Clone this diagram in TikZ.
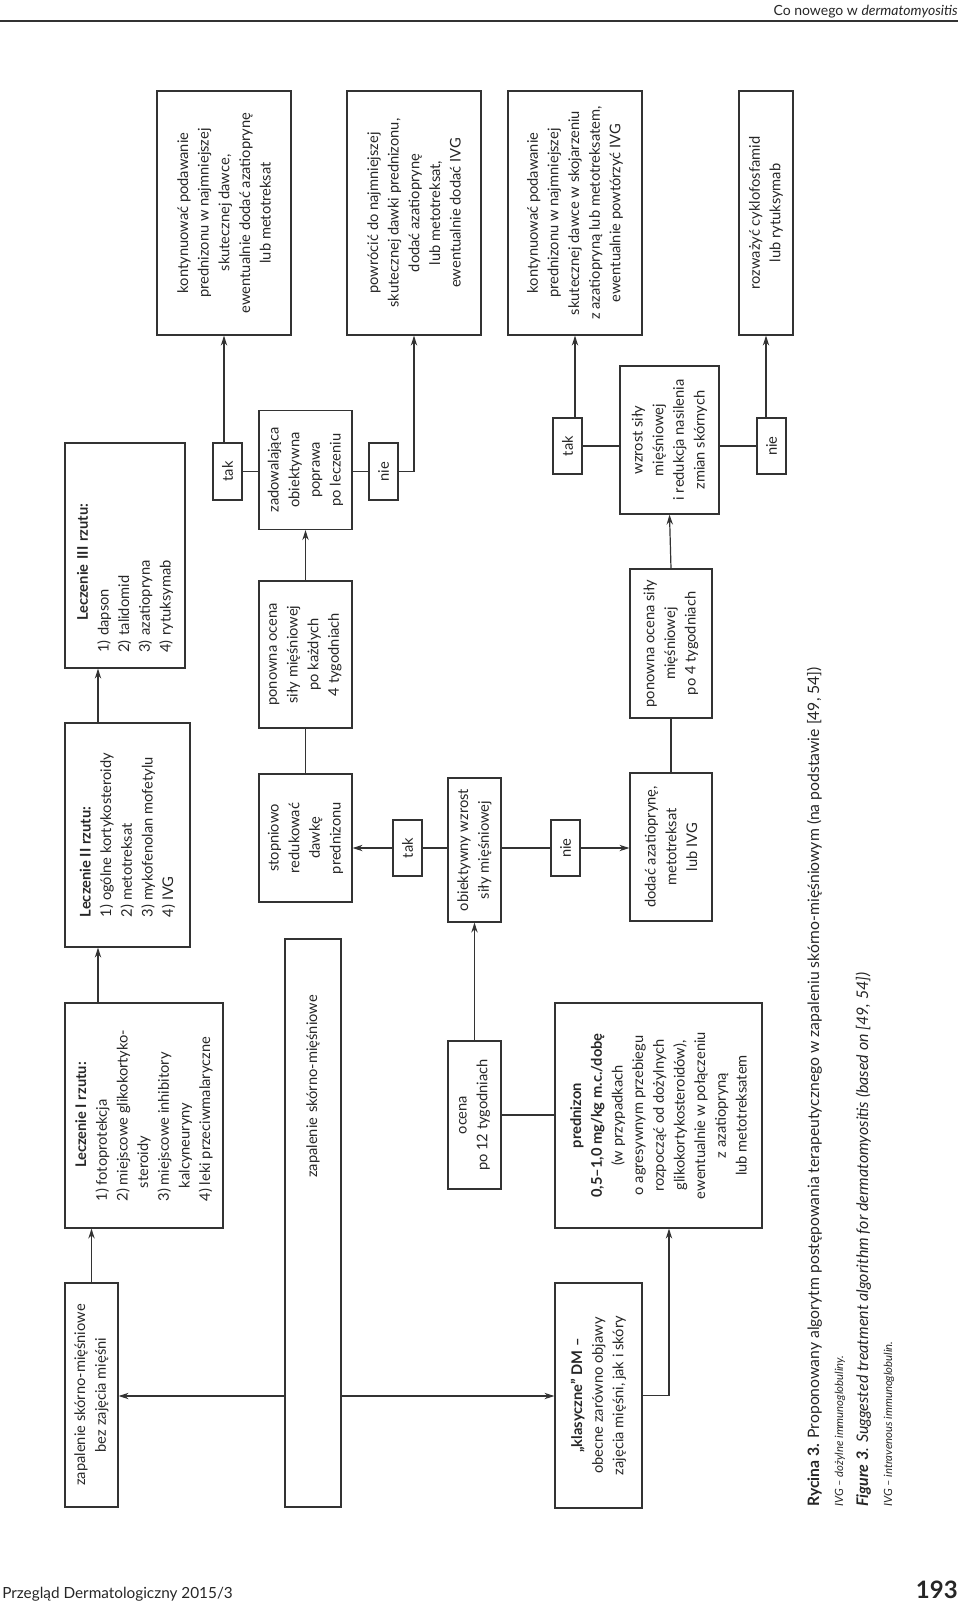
\documentclass[tikz,border=0pt]{standalone}
\usepackage{fontspec}
\setmainfont{Lato}
\usetikzlibrary{arrows.meta}

\tikzset{
  box/.style={draw=black!80, line width=0.9pt, rotate=90, inner sep=0pt,
    align=center, text=black!85, font=\fontsize{11}{15.5}\selectfont},
  sz/.style 2 args={minimum width=#1*0.75pt, minimum height=#2*0.75pt},
  arr/.style={draw=black!80, line width=0.9pt, -{Stealth[length=7.5pt,width=4.8pt]}},
  lnk/.style={draw=black!80, line width=0.9pt},
  captext/.style={rotate=90, anchor=base west, inner sep=0pt, text=black!85},
}

\begin{document}
\begin{tikzpicture}[x=0.75pt,y=0.75pt,yscale=-1,xscale=1]
    \useasboundingbox (0,0) rectangle (960,1604);

    % Page header
    \node[anchor=base east, inner sep=0pt, font=\fontsize{10.5}{12}\selectfont, text=black!85] (head) at (958,15) {Co nowego w \textit{dermatomyositis}};
    \draw[line width=0.8pt, black!80] (0,21) -- (958,21);

    % Shape: first column
    \node[box, sz={224}{53}] (skin) at (91.5,1395) {zapalenie skórno-mięśniowe\\bez zajęcia mięśni};
    \node[box, sz={225}{158}, align=left] (first) at (144,1115.5) {\hspace*{25pt}\textbf{Leczenie I rzutu:}\\1) fotoprotekcja\\2) miejscowe glikokortyko-\\\hspace*{0.9em}steroidy\\3) miejscowe inhibitory\\\hspace*{0.9em}kalcyneuryny\\4) leki przeciwmalaryczne};
    \node[box, sz={224}{125}, align=left] (second) at (127.5,835) {\textbf{Leczenie II rzutu:}\\1) ogólne kortykosteroidy\\2) metotreksat\\3) mykofenolan mofetylu\\4) IVG};
    \node[box, sz={225}{120}, align=left, text width=146pt] (third) at (125,555.5) {\hspace*{24pt}\textbf{Leczenie III rzutu:}\\1) dapson\\2) talidomid\\3) azatiopryna\\4) rytuksymab};

    % Shape: root and classic DM
    \node[box, sz={568}{56}, align=right, text width=342pt] (root) at (313,1223) {zapalenie skórno-mięśniowe};
    \node[box, sz={225}{87}] (classic) at (598.5,1395.5) {\textbf{„klasyczne” DM –}\\obecne zarówno objawy\\zajęcia mięśni, jak i skóry};
    \node[box, sz={225}{207}] (pred) at (658.5,1115.5) {\textbf{prednizon}\\\textbf{0,5–1,0 mg/kg m.c./dobę}\\(w przypadkach\\o agresywnym przebiegu\\rozpocząć od dożylnych\\glikokortykosteroidów),\\ewentualnie w połączeniu\\z azatiopryną\\lub metotreksatem};

    % Shape: assessment
    \node[box, sz={148}{53}] (twelve) at (474.5,1115) {ocena\\po 12 tygodniach};
    \node[box, sz={144}{53}] (gain) at (474.5,850) {obiektywny wzrost\\siły mięśniowej};
    \node[box, sz={56}{29}] (yes3) at (407.5,848) {tak};
    \node[box, sz={56}{29}] (no3) at (565.5,848) {nie};
    \node[box, sz={128}{93}] (taper) at (305.5,838) {stopniowo\\redukować\\dawkę\\prednizonu};
    \node[box, sz={148}{82}] (add) at (671,847) {dodać azatioprynę,\\metotreksat\\lub IVG};
    \node[box, sz={147}{93}] (recheck) at (305.5,654.5) {ponowna ocena\\siły mięśniowej\\po każdych\\4 tygodniach};
    \node[box, sz={149}{82}] (recheckb) at (671,643.5) {ponowna ocena siły\\mięśniowej\\po 4 tygodniach};
    \node[box, sz={119}{93}] (good) at (305.5,470) {zadowalająca\\obiektywna\\poprawa\\po leczeniu};
    \node[box, sz={148}{99}] (better) at (669.5,440) {wzrost siły\\mięśniowej\\i redukcja nasilenia\\zmian skórnych};
    \node[box, sz={57}{29}] (yes1) at (227.5,471.5) {tak};
    \node[box, sz={57}{29}] (no1) at (383.5,471.5) {nie};
    \node[box, sz={56}{29}] (yes2) at (567.5,446) {tak};
    \node[box, sz={56}{29}] (no2) at (771.5,446) {nie};

    % Shape: outcomes
    \node[box, sz={244}{134}] (keep) at (224,213) {kontynuować podawanie\\prednizonu w najmniejszej\\skutecznej dawce,\\ewentualnie dodać azatioprynę\\lub metotreksat};
    \node[box, sz={244}{134}] (back) at (414,213) {powrócić do najmniejszej\\skutecznej dawki prednizonu,\\dodać azatioprynę\\lub metotreksat,\\ewentualnie dodać IVG};
    \node[box, sz={244}{134}] (keepb) at (575,213) {kontynuować podawanie\\prednizonu w najmniejszej\\skutecznej dawce w skojarzeniu\\z azatiopryną lub metotreksatem,\\ewentualnie powtórzyć IVG};
    \node[box, sz={244}{54}] (cyclo) at (766,213) {rozważyć cyklofosfamid\\lub rytuksymab};

    % Straight Lines
    \coordinate (ax) at (98,0);
    \coordinate (fork) at (0,1396);
    \coordinate (bend) at (669,0);
    \draw[arr] (skin.east) -- (skin.east |- first.west);
    \draw[arr] (first.east -| ax) -- (second.west -| ax);
    \draw[arr] (second.east -| ax) -- (third.west -| ax);
    \draw[arr] (root.north |- fork) -- (skin.south |- fork);
    \draw[arr] (root.south |- fork) -- (classic.north |- fork);
    \draw[arr] (classic.south) -| (bend |- pred.west);
    \draw[lnk] (twelve.south) -- (twelve.south -| pred.north);
    \draw[arr] (twelve.east) -- (gain.west);
    \draw[lnk] (gain.north |- yes3) -- (yes3.south);
    \draw[arr] (yes3.north) -- (yes3.north -| taper.south);
    \draw[lnk] (gain.south |- no3) -- (no3.north);
    \draw[arr] (no3.south) -- (no3.south -| add.north);
    \draw[lnk] (taper.east) -- (recheck.west);
    \draw[arr] (recheck.east) -- (good.west);
    \draw[lnk] (good.north |- yes1) -- (yes1.south);
    \draw[arr] (keep.west |- yes1.east) -- (keep.west);
    \draw[lnk] (good.south |- no1) -- (no1.north);
    \draw[arr] (no1.south) -| (back.west);
    \draw[lnk] (add.east) -- (recheckb.west);
    \draw[arr] (recheckb.east) -- (better.west);
    \draw[lnk] (better.north |- yes2) -- (yes2.south);
    \draw[arr] (keepb.west |- yes2.east) -- (keepb.west);
    \draw[lnk] (better.south |- no2) -- (no2.north);
    \draw[arr] (cyclo.west |- no2.east) -- (cyclo.west);

    % Text Node: caption
    \node[captext, font=\fontsize{11.8}{13}\selectfont] (fig) at (819,1507) {\textbf{Rycina 3.} Proponowany algorytm postępowania terapeutycznego w zapaleniu skórno-mięśniowym (na podstawie [49, 54])};
    \node[captext, font=\fontsize{8.5}{10}\selectfont\itshape] (abbr) at (843,1507) {IVG – dożylne immunoglobuliny.};
    \node[captext, font=\fontsize{12}{13}\selectfont\itshape] (figen) at (868,1507) {\textbf{Figure 3}. Suggested treatment algorithm for dermatomyositis (based on [49, 54])};
    \node[captext, font=\fontsize{8.5}{10}\selectfont\itshape] (abbren) at (892,1507) {IVG – intravenous immunoglobulin.};

    % Text Node: footer
    \node[anchor=base west, inner sep=0pt, font=\fontsize{11.5}{13}\selectfont, text=black!85] (journal) at (2,1598) {Przegląd Dermatologiczny 2015/3};
    \node[anchor=base east, inner sep=0pt, font=\fontsize{18}{20}\selectfont\bfseries, text=black!85] (page) at (958,1598) {193};
\end{tikzpicture}
\end{document}
